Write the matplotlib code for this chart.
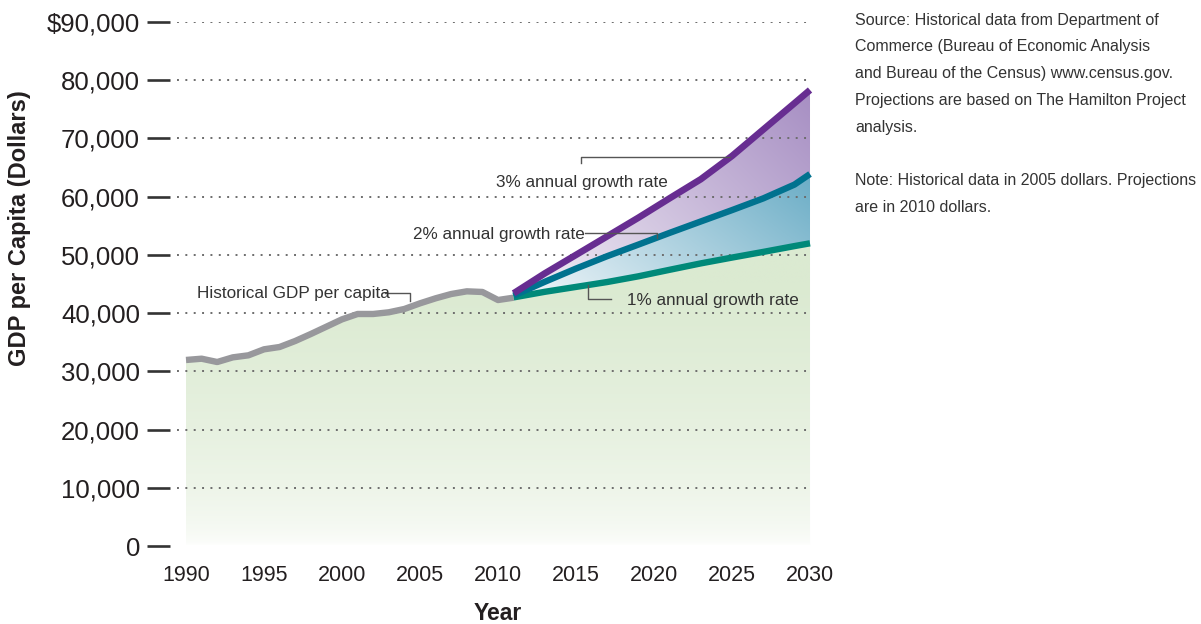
import numpy as np
import matplotlib
matplotlib.use('Agg')
import matplotlib.pyplot as plt
from matplotlib.colors import to_rgb

# data
hist_years = list(range(1990, 2012))
hist_gdp = [31950, 32170, 31600, 32400, 32750, 33780, 34180, 35210, 36410, 37670,
            38930, 39850, 39850, 40140, 40710, 41680, 42540, 43280, 43740, 43630,
            42250, 42650]

proj_years = [2011, 2013, 2015, 2017, 2019, 2021, 2023, 2025, 2027, 2029, 2030]
growth_1 = [42700, 43660, 44500, 45340, 46320, 47440, 48540, 49540, 50510, 51510, 51990]
growth_2 = [43000, 45380, 47650, 49780, 51770, 53780, 55740, 57690, 59700, 62070, 63890]
growth_3 = [43400, 46820, 50000, 53190, 56390, 59720, 63000, 66990, 71520, 76040, 78320]

x_ticks = [1990, 1995, 2000, 2005, 2010, 2015, 2020, 2025, 2030]
y_ticks = [0, 10000, 20000, 30000, 40000, 50000, 60000, 70000, 80000, 90000]
y_labels = ['0', '10,000', '20,000', '30,000', '40,000', '50,000', '60,000',
            '70,000', '80,000', '$90,000']

notes = ['Source: Historical data from Department of',
         'Commerce (Bureau of Economic Analysis',
         'and Bureau of the Census) www.census.gov.',
         'Projections are based on The Hamilton Project',
         'analysis.',
         '',
         'Note: Historical data in 2005 dollars. Projections',
         'are in 2010 dollars.']

plt.rcParams['font.family'] = 'Liberation Sans'

txt = '#231f20'
gray_line = '#98989c'
c_purple = '#672d91'
c_blue = '#00728f'
c_green = '#008979'

fig = plt.figure(figsize=(12.01, 6.24), dpi=100)
xmin, xmax = 1988.974, 2031.0
ax = fig.add_axes([170/1201, 78/624, (xmax - xmin)*15.6/1201, 524/624])
ax.set_xlim(xmin, xmax)
ax.set_ylim(0, 90000)


def gradient(ax, path, func, zorder):
    gx = np.linspace(xmin, xmax, 400)
    gy = np.linspace(0, 90000, 400)
    X, Y = np.meshgrid(gx, gy)
    img = func(X, Y)
    im = ax.imshow(img, extent=[xmin, xmax, 0, 90000], origin='lower',
                   aspect='auto', interpolation='bilinear', zorder=zorder)
    im.set_clip_path(path, transform=ax.transData)


def mix(c0, c1, t):
    c0 = np.array(to_rgb(c0))
    c1 = np.array(to_rgb(c1))
    t = np.clip(t, 0, 1)[..., None]
    return c0*(1 - t) + c1*t


# green area under history + 1% line
gx_all = hist_years + proj_years[1:]
gy_all = hist_gdp + growth_1[1:]
p = ax.fill_between(gx_all, 0, gy_all, facecolor='none', edgecolor='none')
gradient(ax, p.get_paths()[0],
         lambda X, Y: mix('#ffffff', '#dbead1', np.sqrt(np.clip(Y/45000, 0, 1))), 1)

# blue band
p = ax.fill_between(proj_years, growth_1, growth_2, facecolor='none', edgecolor='none')
gradient(ax, p.get_paths()[0],
         lambda X, Y: mix('#f4f8fb', '#6badc6',
                          0.65*(X - 2011)/19 + 0.35*(Y - 43000)/21000), 1)

# purple band
p = ax.fill_between(proj_years, growth_2, growth_3, facecolor='none', edgecolor='none')
gradient(ax, p.get_paths()[0],
         lambda X, Y: mix('#f5f2f8', '#a78fc3',
                          0.6*(X - 2011)/19 + 0.4*(Y - 43000)/35000), 1)

# dotted grid
ax.hlines(y_ticks[1:], 1989.45, 2030.0, colors='#6d6d6d', linewidth=1.4,
          linestyles=(0, (1, 3.3)), zorder=2)

ax.plot(hist_years, hist_gdp, color=gray_line, lw=4.6, solid_capstyle='butt',
        solid_joinstyle='round', zorder=3)
ax.plot(proj_years, growth_1, color=c_green, lw=4.6, solid_capstyle='butt', zorder=4)
ax.plot(proj_years, growth_2, color=c_blue, lw=4.6, solid_capstyle='butt', zorder=5)
ax.plot(proj_years, growth_3, color=c_purple, lw=4.8, solid_capstyle='butt', zorder=6)

for s in ax.spines.values():
    s.set_visible(False)

ax.set_yticks(y_ticks)
ax.set_yticklabels(y_labels)
ax.set_xticks(x_ticks)
ax.set_xticklabels([str(v) for v in x_ticks])
ax.tick_params(axis='y', length=16.6, width=1.9, color='#333333', pad=5,
               labelsize=18.5, labelcolor=txt)
ax.tick_params(axis='x', length=0, pad=14, labelsize=15.5, labelcolor=txt)

ax.set_xlabel('Year', fontsize=16.5, fontweight='bold', color=txt, labelpad=11)
ax.set_ylabel('GDP per Capita (Dollars)', fontsize=17, fontweight='bold', color=txt)
ax.yaxis.set_label_coords(-139/655.6, 0.607)


def px(x, y):
    return 1990 + (x - 186)/15.6, (546 - y)*10000/58.22


lead = dict(color='#555555', lw=1.0, zorder=7)
ann = dict(fontsize=12.3, color='#333333', zorder=8)

ax.text(*px(197, 298.5), 'Historical GDP per capita', ha='left', va='baseline', **ann)
a, b, c = px(385, 293), px(410, 293), px(410, 301)
ax.plot([a[0], b[0], c[0]], [a[1], b[1], c[1]], **lead)

ax.text(*px(496, 187), '3% annual growth rate', ha='left', va='baseline', **ann)
a, b, c = px(581, 163.5), px(581, 157.3), px(730, 157.3)
ax.plot([a[0], b[0], c[0]], [a[1], b[1], c[1]], **lead)

ax.text(*px(585, 239.5), '2% annual growth rate', ha='right', va='baseline', **ann)
a, b, c = px(585, 232.7), px(657, 232.7), px(657, 238.5)
ax.plot([a[0], b[0], c[0]], [a[1], b[1], c[1]], **lead)

ax.text(*px(627, 305), '1% annual growth rate', ha='left', va='baseline', **ann)
a, b, c = px(588, 285), px(588, 299.3), px(611, 299.3)
ax.plot([a[0], b[0], c[0]], [a[1], b[1], c[1]], **lead)

for i, line in enumerate(notes):
    fig.text(855/1201, 1 - (20 + 26.8*i)/624, line, ha='left', va='center',
             fontsize=11.5, color='#333333')

fig.savefig('out.png', dpi=100)
